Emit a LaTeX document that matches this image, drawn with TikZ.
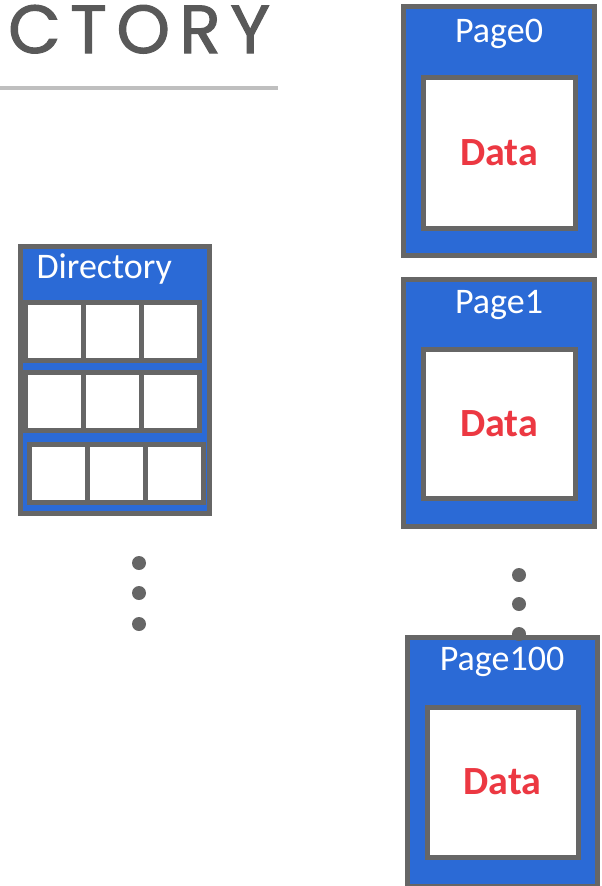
\documentclass[tikz,border=0pt]{standalone}
\usepackage{fontspec}
\setmainfont{Carlito}
\newfontfamily\titlefont[LetterSpace=14, FakeBold=1.6]{Poppins}
\usetikzlibrary{positioning}
\definecolor{pageblue}{RGB}{43,106,214}
\definecolor{edgegray}{RGB}{102,102,102}
\definecolor{datared}{RGB}{236,56,66}
\definecolor{rulegray}{RGB}{191,191,191}
\definecolor{titlegray}{RGB}{89,89,89}

\begin{document}
\begin{tikzpicture}[x=1pt, y=-1pt,
  frame/.style={draw=edgegray, line width=5pt, fill=pageblue, inner sep=0pt, outer sep=0pt},
  databox/.style={draw=edgegray, line width=5pt, fill=white, inner sep=0pt, outer sep=0pt, minimum width=152pt, minimum height=151pt, font=\fontsize{40}{40}\selectfont\bfseries, text=datared},
  cell/.style={draw=edgegray, line width=5pt, fill=white, inner sep=0pt, outer sep=0pt, minimum width=58pt, minimum height=58pt},
  caption/.style={font=\fontsize{36}{36}\selectfont, text=white},
  dot/.style={circle, fill=edgegray, inner sep=0pt, minimum size=14pt}]
\useasboundingbox (0,0) rectangle (602,886);
\clip (0,0) rectangle (602,886);
% title and rule
\node[anchor=base west, inner sep=0pt, font=\titlefont\fontsize{68}{68}\selectfont, text=titlegray] (title) at (8,53) {CTORY};
\coordinate (rulel) at (0,88);
\coordinate (ruler) at (278,88);
\draw[rulegray, line width=4pt] (rulel) -- (ruler);
% directory
\node[frame, minimum width=189pt, minimum height=267pt] (dir) at (115,380) {};
\node[caption, anchor=base west] (dirname) at (33,278) {Directory};
\foreach \r/\x/\y in {1/54.5/331.5, 2/54.5/401, 3/58.5/473} {
  \node[cell] (r\r-c1) at (\x,\y) {};
  \node[cell, right=0pt of r\r-c1] (r\r-c2) {};
  \node[cell, right=0pt of r\r-c2] (r\r-c3) {};
}
% pages
\node[frame, minimum width=191pt, minimum height=249pt] (page0) at (499,131) {};
\node[databox] (data0) at (499,153) {Data};
\node[caption, anchor=base] (name0) at (499,42) {Page0};
\node[frame, minimum width=191pt, minimum height=247pt] (page1) at (499,403) {};
\node[databox, minimum height=149pt] (data1) at (499,424) {Data};
\node[caption, anchor=base] (name1) at (499,313) {Page1};
\node[frame, minimum width=190pt, minimum height=249pt] (page100) at (502.5,762) {};
\node[databox, minimum width=151pt, minimum height=150pt] (data100) at (502.5,782) {Data};
\node[caption, anchor=base] (name100) at (502,670) {Page100};
% dots
\foreach \i/\y in {1/563, 2/593, 3/624} { \node[dot] (ldot\i) at (139,\y) {}; }
\foreach \i/\y in {1/575, 2/604, 3/634} { \node[dot] (rdot\i) at (519,\y) {}; }
\end{tikzpicture}
\end{document}
